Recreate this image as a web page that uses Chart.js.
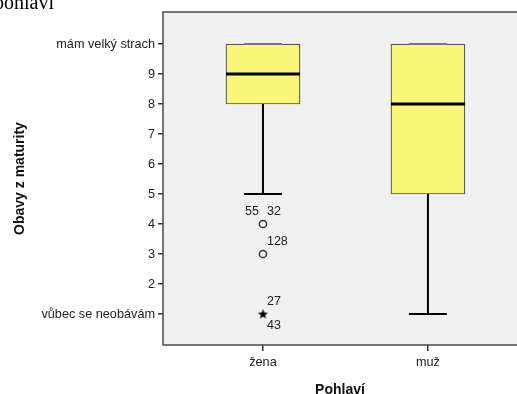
<!DOCTYPE html>
<html>
<head>
<meta charset="utf-8">
<script src="https://cdn.jsdelivr.net/npm/chart.js@4/dist/chart.umd.min.js"></script>
<style>
  body { margin: 0; background: #fff; }
  #wrap { position: relative; width: 517px; height: 394px; overflow: hidden; }
  #cap { position: absolute; left: -6px; top: -8px; font: 20px/20px "Liberation Serif", "Times New Roman", serif; color: #000; }
</style>
</head>
<body>
<div id="wrap">
  <canvas id="chart" width="517" height="394"></canvas>
  <div id="cap">pohlaví</div>
</div>
<script>
// box plot values
const groups = ['žena', 'muž'];
const groupPos = [1, 2];
const mins = [5, 1];
const q1s = [8, 5];
const medians = [9, 8];
const q3s = [10, 10];
const maxs = [10, 10];

// outliers (o) and extremes (*) with case numbers
const outlierGroup = [0, 0];
const outlierValues = [4, 3];
const outlierIds = [['55', '32'], ['128']];
const extremeGroup = [0];
const extremeValues = [1];
const extremeIds = [['27', '43']];

const yTicks = [1, 2, 3, 4, 5, 6, 7, 8, 9, 10];
const yTickLabels = { 1: 'vůbec se neobávám', 10: 'mám velký strach' };

const boxHalf = 0.224, capHalf = 0.115;

function segments(pairs) {
  // pairs of points -> one line dataset with gaps
  let pts = [];
  pairs.forEach(function(p){
    pts.push(p[0], p[1], {x: p[1].x, y: null});
  });
  return pts;
}

let whiskers = [], caps = [], medianLines = [];
for (let i = 0; i < groups.length; i++) {
  let x = groupPos[i];
  if (mins[i] < q1s[i]) whiskers.push([{x: x, y: mins[i]}, {x: x, y: q1s[i]}]);
  if (maxs[i] > q3s[i]) whiskers.push([{x: x, y: q3s[i]}, {x: x, y: maxs[i]}]);
  caps.push([{x: x - capHalf, y: mins[i]}, {x: x + capHalf, y: mins[i]}]);
  medianLines.push([{x: x - boxHalf, y: medians[i]}, {x: x + boxHalf, y: medians[i]}]);
}
let topCaps = groupPos.map(function(x, i){ return [{x: x - capHalf, y: maxs[i]}, {x: x + capHalf, y: maxs[i]}]; });

const outlierPts = outlierValues.map(function(v, i){ return {x: groupPos[outlierGroup[i]], y: v}; });
const extremePts = extremeValues.map(function(v, i){ return {x: groupPos[extremeGroup[i]], y: v}; });

// where case numbers go round their point: ul = up-left, ur = up-right, dr = down-right
const outlierPlace = [['ul', 'ur'], ['ur']];
const extremePlace = [['ur', 'dr']];

// small filled five-point star for extremes
function makeStar() {
  const c = document.createElement('canvas');
  c.width = 11; c.height = 11;
  const g = c.getContext('2d');
  g.fillStyle = '#000';
  g.beginPath();
  for (let k = 0; k < 10; k++) {
    const r = k % 2 ? 2.2 : 5.3;
    const a = -Math.PI / 2 + k * Math.PI / 5;
    const px = 5.5 + r * Math.cos(a), py = 5.8 + r * Math.sin(a);
    if (k == 0) g.moveTo(px, py); else g.lineTo(px, py);
  }
  g.closePath();
  g.fill();
  return c;
}

const framePlugin = {
  id: 'frame',
  beforeDraw: function(chart){
    const a = chart.chartArea, ctx = chart.ctx;
    ctx.save();
    ctx.fillStyle = '#f0f0f0';
    ctx.fillRect(a.left, a.top, a.right - a.left + 10, a.bottom - a.top);
    ctx.restore();
  },
  afterDraw: function(chart){
    const a = chart.chartArea, ctx = chart.ctx;
    ctx.save();
    ctx.strokeStyle = '#4a4a4a';
    ctx.lineWidth = 1.5;
    ctx.beginPath();
    ctx.moveTo(a.right + 10, a.top);
    ctx.lineTo(a.left, a.top);
    ctx.lineTo(a.left, a.bottom);
    ctx.lineTo(a.right + 10, a.bottom);
    ctx.stroke();
    ctx.restore();
  }
};

const idPlugin = {
  id: 'caseIds',
  afterDatasetsDraw: function(chart){
    const ctx = chart.ctx, xs = chart.scales.x, ys = chart.scales.y;
    ctx.save();
    ctx.font = '12.5px "Liberation Sans", Arial, sans-serif';
    ctx.fillStyle = '#222';
    ctx.textBaseline = 'middle';
    function put(pts, ids, places) {
      pts.forEach(function(p, i){
        const px = xs.getPixelForValue(p.x), py = ys.getPixelForValue(p.y);
        ids[i].forEach(function(t, j){
          const pl = places[i][j];
          ctx.textAlign = pl[1] == 'l' ? 'right' : 'left';
          ctx.fillText(t, pl[1] == 'l' ? px - 4 : px + 4, pl[0] == 'u' ? py - 12 : py + 12);
        });
      });
    }
    put(outlierPts, outlierIds, outlierPlace);
    put(extremePts, extremeIds, extremePlace);
    ctx.restore();
  }
};

const lineStyle = { type: 'line', showLine: true, pointRadius: 0, fill: false, spanGaps: false, borderColor: '#000' };
const tickFont = { family: '"Liberation Sans", Arial, sans-serif', size: 12.7 };
const titleFont = { family: '"Liberation Sans", Arial, sans-serif', size: 14, weight: 'bold' };

new Chart(document.getElementById('chart'), {
  type: 'bar',
  data: {
    datasets: [
      {
        type: 'bar',
        data: groupPos.map(function(x, i){ return {x: x, y: [q1s[i], q3s[i]]}; }),
        backgroundColor: '#faf67a',
        borderColor: '#555',
        borderWidth: 1.2,
        borderSkipped: false,
        barThickness: 74,
        order: 5
      },
      Object.assign({}, lineStyle, { data: segments(whiskers), borderWidth: 2, order: 4 }),
      Object.assign({}, lineStyle, { data: segments(caps), borderWidth: 2, order: 3 }),
      Object.assign({}, lineStyle, { data: segments(topCaps), borderWidth: 2, borderColor: '#777', order: 3 }),
      Object.assign({}, lineStyle, { data: segments(medianLines), borderWidth: 3, order: 2 }),
      {
        type: 'scatter',
        data: outlierPts,
        pointStyle: 'circle',
        pointRadius: 3.6,
        pointBorderWidth: 1.5,
        pointBorderColor: '#333',
        pointBackgroundColor: '#f0f0f0',
        order: 1
      },
      {
        type: 'scatter',
        data: extremePts,
        pointStyle: makeStar(),
        order: 1
      }
    ]
  },
  options: {
    responsive: false,
    animation: false,
    layout: { autoPadding: false, padding: { top: 12, right: 0, bottom: 0, left: 0 } },
    plugins: { legend: { display: false }, tooltip: { enabled: false } },
    scales: {
      x: {
        type: 'linear',
        min: 0.394,
        max: 2.54,
        offset: false,
        afterBuildTicks: function(s){ s.ticks = groupPos.map(function(v){ return {value: v}; }); },
        afterFit: function(s){ s.height = 49; s.paddingLeft = 0; s.paddingRight = 0; },
        ticks: {
          callback: function(v){ return groups[groupPos.indexOf(v)]; },
          font: tickFont,
          color: '#222',
          padding: 4,
          maxRotation: 0
        },
        grid: { offset: false, drawOnChartArea: false, drawTicks: true, tickLength: 6, color: '#333', lineWidth: 1.5 },
        border: { display: false },
        title: {
          display: true,
          text: 'Pohlaví',
          font: titleFont,
          color: '#111',
          padding: { top: 0, bottom: -5 }
        }
      },
      y: {
        min: -0.033,
        max: 11.067,
        afterBuildTicks: function(s){ s.ticks = yTicks.map(function(v){ return {value: v}; }); },
        afterFit: function(s){ s.width = 163; s.paddingTop = 0; s.paddingBottom = 0; },
        ticks: {
          callback: function(v){ return yTickLabels[v] || String(v); },
          font: tickFont,
          color: '#222',
          padding: 3
        },
        grid: { drawOnChartArea: false, drawTicks: true, tickLength: 5, color: '#333', lineWidth: 1.5 },
        border: { display: false },
        title: {
          display: true,
          text: 'Obavy z maturity',
          font: titleFont,
          color: '#111',
          padding: { top: 12, bottom: 0 }
        }
      }
    }
  },
  plugins: [framePlugin, idPlugin]
});
</script>
</body>
</html>
